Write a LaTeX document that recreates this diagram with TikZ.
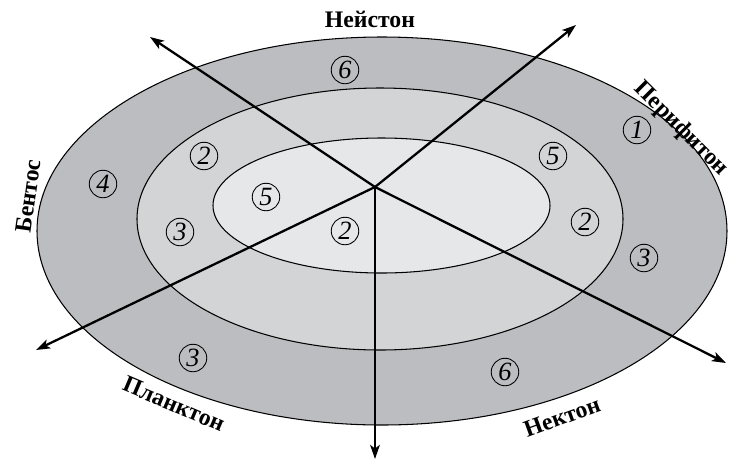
\documentclass[tikz,border=0pt]{standalone}
\usepackage{fontspec}
\setmainfont{Liberation Serif}
\usepackage{xcolor}
\definecolor{ringouter}{HTML}{BCBDC0}
\definecolor{ringmiddle}{HTML}{D3D4D6}
\definecolor{ringinner}{HTML}{E6E7E8}
\usepackage{tikz}
\usetikzlibrary{arrows.meta, positioning}

\begin{document}
\begin{tikzpicture}[
    x=0.02cm, y=-0.02cm,
    ring/.style={draw=black, line width=0.6pt, fill=#1},
    axis/.style={-{Stealth[length=8pt, width=5.5pt, inset=2pt]}, line width=1.3pt},
    zone/.style={font=\fontsize{13.5}{15}\selectfont\bfseries, inner sep=0pt},
    num/.style={circle, draw=black, line width=0.5pt, minimum size=0.55cm, inner sep=0pt, font=\fontsize{15}{16}\selectfont\itshape},
]
    \useasboundingbox (0,0) rectangle (731,461);

    % zones of the water body
    \draw[ring=ringouter] (382,231) ellipse [x radius=345, y radius=194];
    \draw[ring=ringmiddle] (380,219) ellipse [x radius=243, y radius=131];
    \draw[ring=ringinner] (381.5,205.5) ellipse [x radius=168.5, y radius=67.5];

    % axes
    \coordinate (o) at (375,187);
    \coordinate (neiston) at (150,37);
    \coordinate (perifiton) at (576,25);
    \coordinate (bentos) at (36,350);
    \coordinate (nekton) at (726,363);
    \coordinate (plankton) at (375,459);
    \draw[axis] (o) -- (neiston);
    \draw[axis] (o) -- (perifiton);
    \draw[axis] (o) -- (bentos);
    \draw[axis] (o) -- (nekton);
    \draw[axis] (o) -- (plankton);

    % labels
    \node[zone] (lneiston) at (370,19) {Нейстон};
    \node[zone, rotate=-45] (lperifiton) at (681,129) {Перифитон};
    \node[zone, rotate=82] (lbentos) at (28,196) {Бентос};
    \node[zone, rotate=-23] (lplankton) at (174,404) {Планктон};
    \node[zone, rotate=20] (lnekton) at (562,417) {Нектон};

    % numbers
    \node[num] (n1) at (345,70) {6};
    \node[num] (n2) at (637,130) {1};
    \node[num] (n3) at (553,156) {5};
    \node[num] (n4) at (585,222) {2};
    \node[num] (n5) at (644,258) {3};
    \node[num] (n6) at (505,372) {6};
    \node[num] (n7) at (193,358) {3};
    \node[num] (n8) at (180,232) {3};
    \node[num] (n9) at (103,184) {4};
    \node[num] (n10) at (204,156) {2};
    \node[num] (n11) at (266,197) {5};
    \node[num] (n12) at (345,231) {2};
\end{tikzpicture}
\end{document}
